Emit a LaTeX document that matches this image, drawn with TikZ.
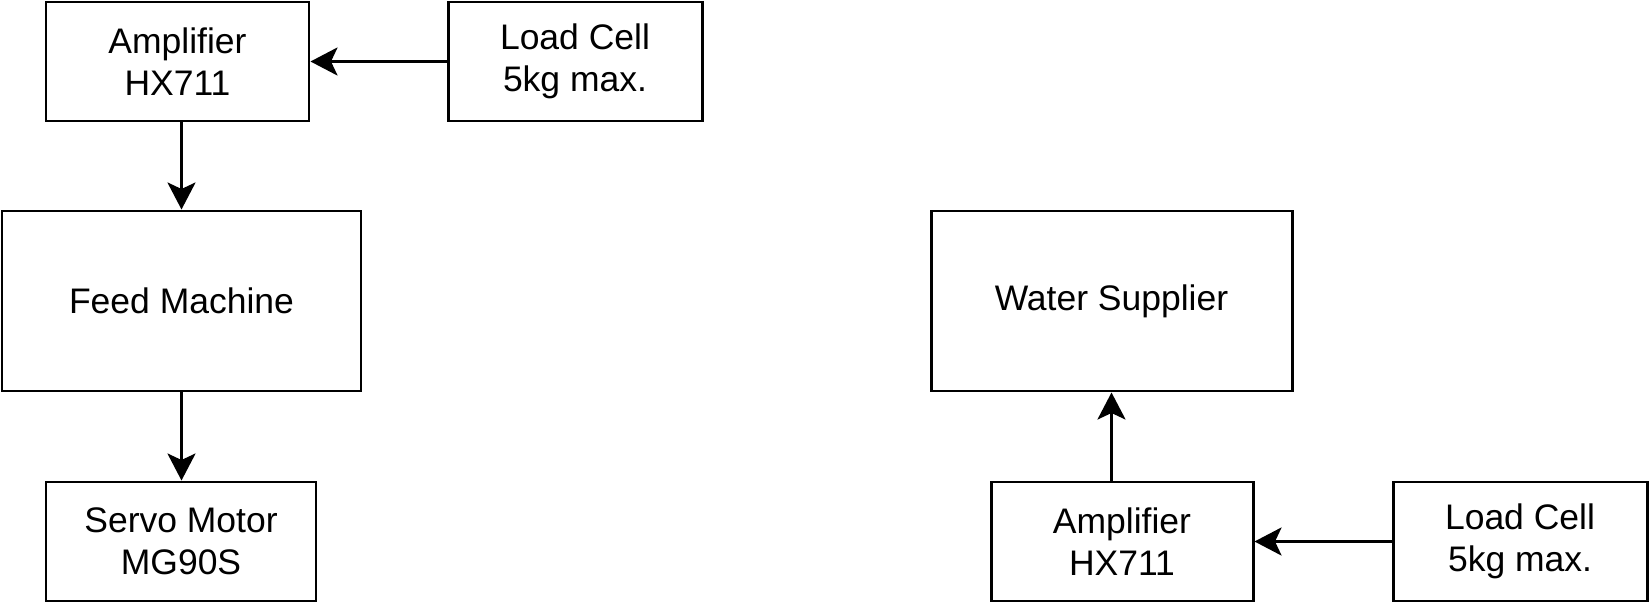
\documentclass[tikz,border=0pt]{standalone}
\usepackage{fontspec}
\setmainfont{Liberation Sans}
\usetikzlibrary{arrows.meta}
\tikzset{
  blk/.style={draw=black, line width=0.85pt, rectangle, inner sep=0pt, align=center,
    font=\fontsize{10.1}{12}\selectfont},
  conn/.style={line width=0.85pt, -{Stealth[length=2.7mm, width=2.8mm, inset=0.65mm]}}
}
\begin{document}
\begin{tikzpicture}[x=0.1mm, y=-0.1mm]
\useasboundingbox (0,0) rectangle (1650,603);
\node[blk, minimum width=26.3mm, minimum height=11.9mm] (amp1) at (177.5,61.5) {Amplifier\\HX711};
\node[blk, minimum width=25.4mm, minimum height=11.9mm] (lc1) at (575,61.5) {Load Cell\\5kg max.};
\node[blk, minimum width=35.9mm, minimum height=18mm] (feed) at (181.5,301) {Feed Machine};
\node[blk, minimum width=27mm, minimum height=11.9mm] (servo) at (181,541.5) {Servo Motor\\MG90S};
\node[blk, minimum width=36.1mm, minimum height=18mm] (water) at (1111.5,301) {Water Supplier};
\node[blk, minimum width=26.2mm, minimum height=11.9mm] (amp2) at (1122,541.5) {Amplifier\\HX711};
\node[blk, minimum width=25.4mm, minimum height=11.9mm] (lc2) at (1520,541.5) {Load Cell\\5kg max.};
\draw[conn] (lc1.west) -- (amp1.east);
\draw[conn] (amp1.south -| feed.north) -- (feed.north);
\draw[conn] (feed.south) -- (feed.south |- servo.north);
\draw[conn] (lc2.west) -- (amp2.east);
\draw[conn] (water.south |- amp2.north) -- (water.south);
\end{tikzpicture}
\end{document}
